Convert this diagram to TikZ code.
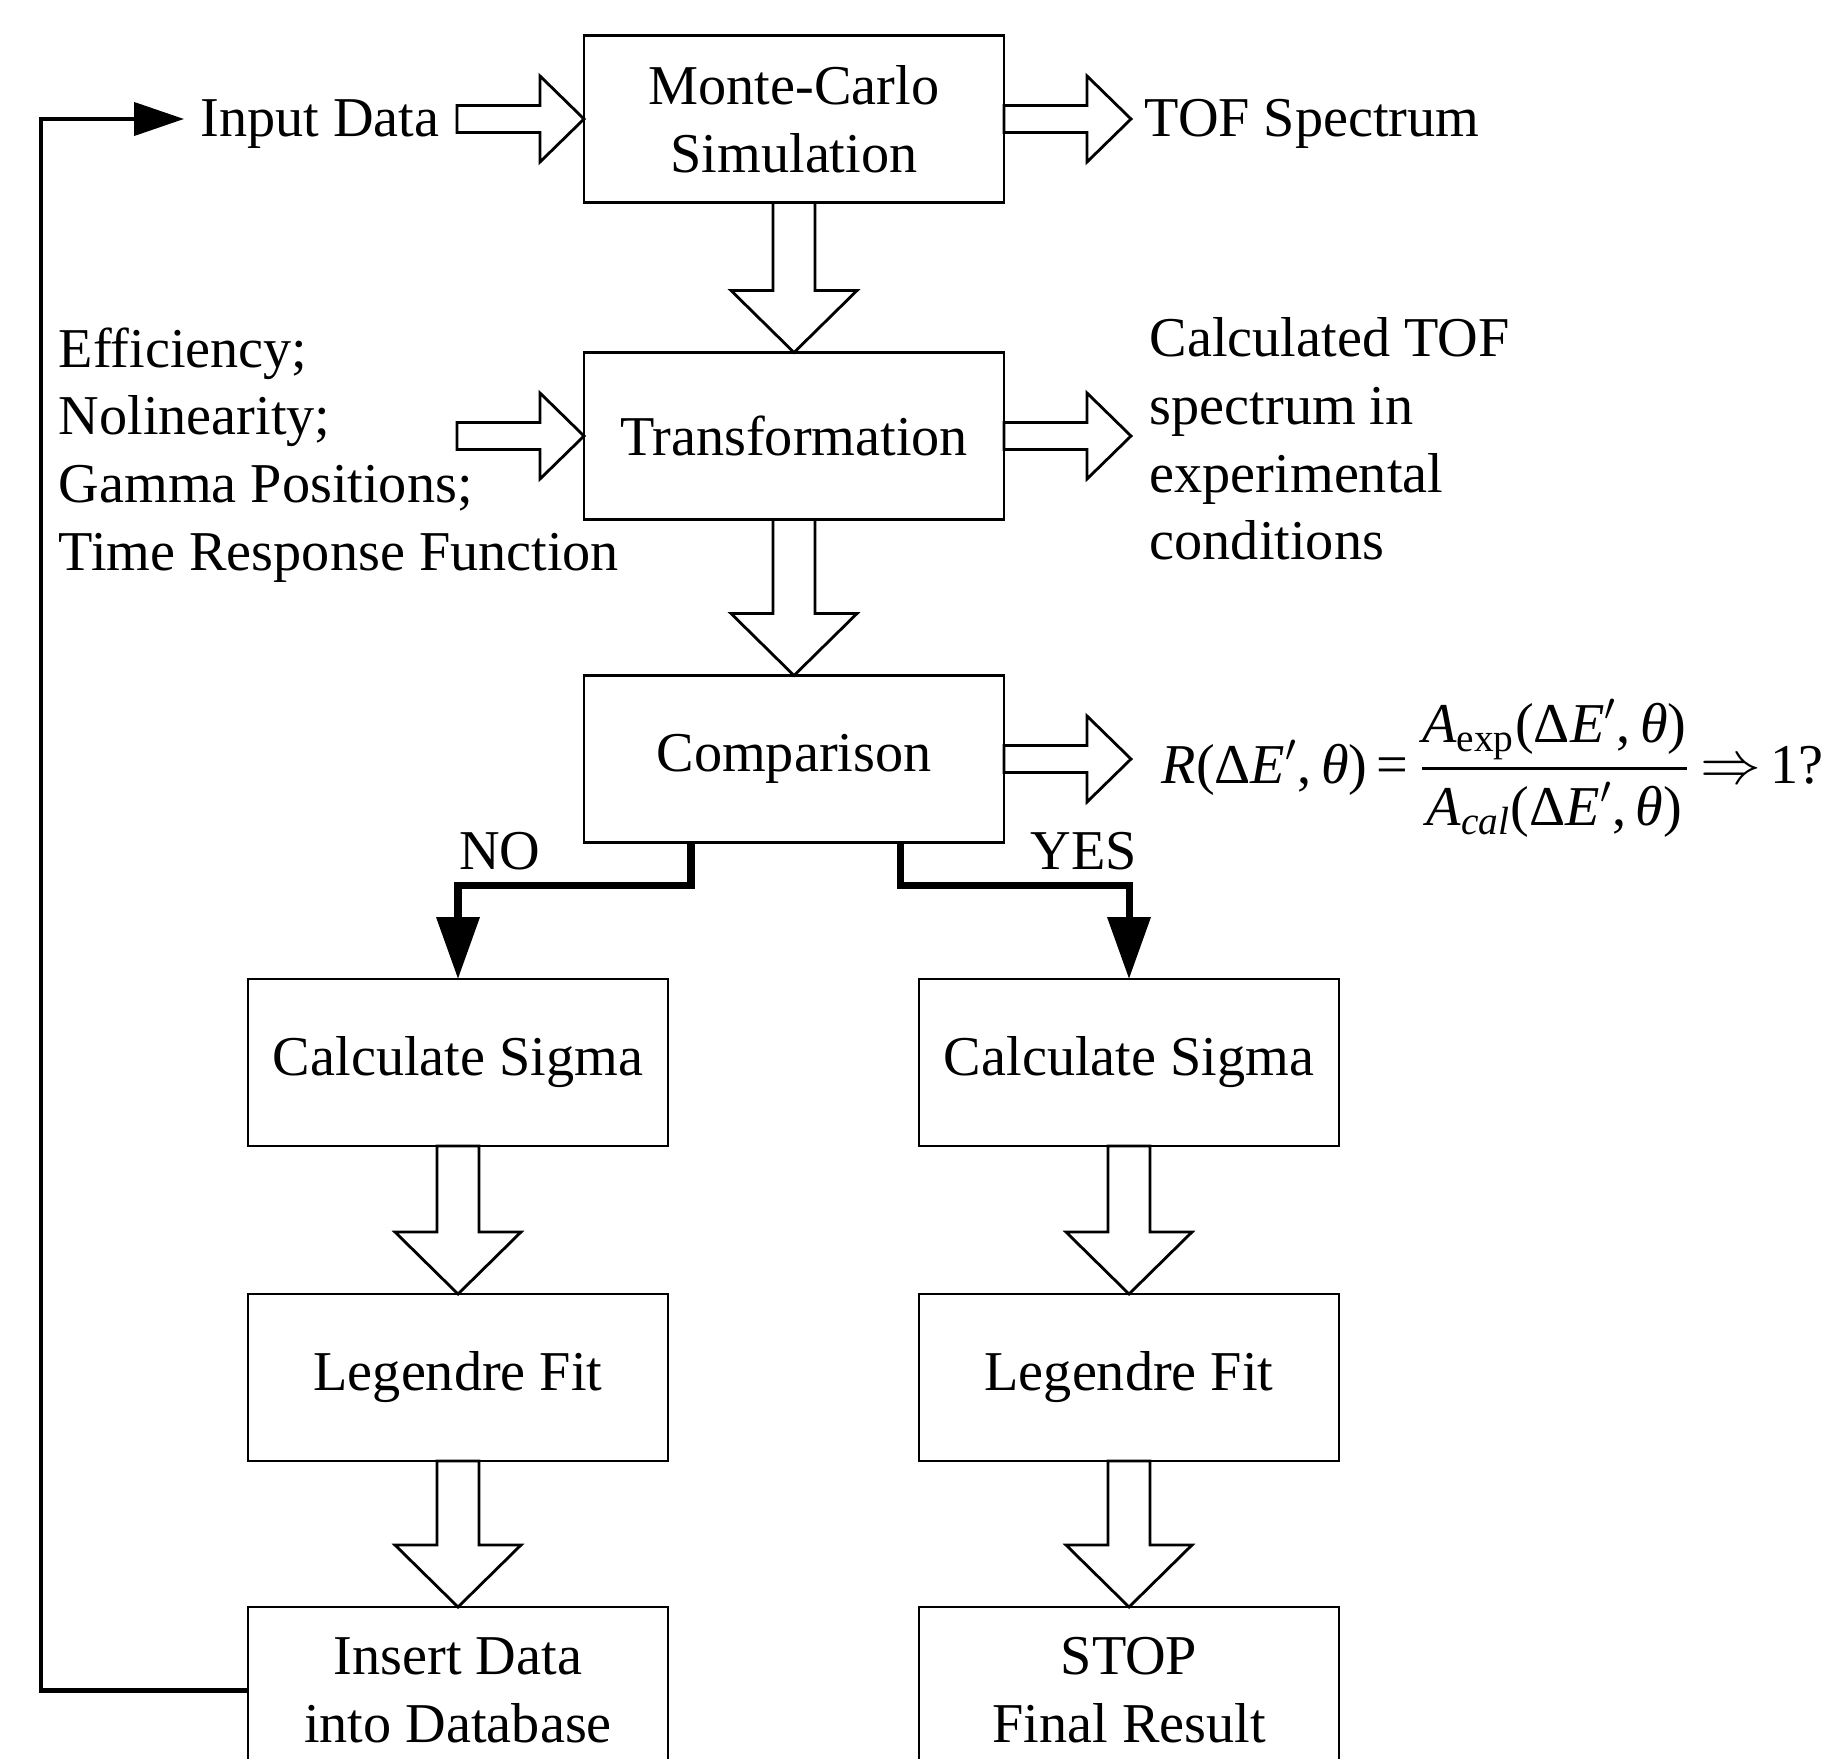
\documentclass[tikz,border=0pt]{standalone}
\usepackage{amsmath}
\usepackage{fontspec}
\setmainfont{Liberation Serif}
\usetikzlibrary{arrows.meta, positioning, calc}

% hollow block arrows, drawn as closed outlines
\newcommand{\hollowdown}[2]{%
  \draw[hollow] ($(#1.south)+(-0.21,0)$) -- ($(#2.north)+(-0.21,0.62)$) -- ($(#2.north)+(-0.63,0.62)$)
    -- (#2.north) -- ($(#2.north)+(0.63,0.62)$) -- ($(#2.north)+(0.21,0.62)$) -- ($(#1.south)+(0.21,0)$) -- cycle;}
\newcommand{\hollowright}[2]{%
  \draw[hollow] ($(#1)+(0,0.135)$) -- ($(#2)+(-0.44,0.135)$) -- ($(#2)+(-0.44,0.43)$)
    -- (#2) -- ($(#2)+(-0.44,-0.43)$) -- ($(#2)+(-0.44,-0.135)$) -- ($(#1)+(0,-0.135)$) -- cycle;}
\newcommand{\dEth}{Δ\textit{E}$'$,\,\textit{θ}}

\begin{document}
\begin{tikzpicture}[
    node distance=1.5cm,
    every node/.style={font=\fontsize{16pt}{19.3pt}\selectfont},
    box/.style={rectangle, draw, line width=0.8pt, minimum width=4.2cm, minimum height=1.67cm, inner sep=0pt, outer sep=0pt, align=center, fill=white},
    hollow/.style={draw, line width=0.8pt, fill=white, line join=miter},
    flow/.style={-{Triangle[length=0.62cm, width=0.42cm]}, line width=2pt},
    loopline/.style={-{Triangle[length=0.5cm, width=0.33cm]}, line width=1.2pt},
    txt/.style={inner sep=0pt, align=left}
]
\clip (0,0) rectangle (18.34,-17.58);

% Main chain
\node[box] (mc) at (7.94,-1.19) {Monte-Carlo\\Simulation};
\node[box, below=1.5cm of mc] (tr) {Transformation};
\node[box, below=1.56cm of tr] (cmp) {Comparison};

% NO branch
\node[box] (csno) at (4.58,-10.625) {Calculate Sigma};
\node[box, below=1.48cm of csno] (lfno) {Legendre Fit};
\node[box, below=1.46cm of lfno] (insert) {Insert Data\\into Database};

% YES branch
\node[box, right=2.51cm of csno] (csyes) {Calculate Sigma};
\node[box, right=2.51cm of lfno] (lfyes) {Legendre Fit};
\node[box, right=2.51cm of insert] (stop) {STOP\\Final Result};

% Side texts
\node[txt, anchor=east] (input) at (4.40,-1.24) {Input Data};
\node[txt, anchor=west] (tof) at (11.44,-1.24) {TOF Spectrum};
\node[txt, anchor=west] (params) at (0.58,-4.55) {Efficiency;\\Nolinearity;\\Gamma Positions;\\Time Response Function};
\node[txt, anchor=west] (calc) at (11.49,-4.39) {Calculated TOF\\spectrum in\\experimental\\conditions};
\node[txt, anchor=west] (ratio) at (11.61,-7.68)
  {\textit{R}(\dEth)\,=\,$\dfrac{\text{\textit{A}}_{\text{exp}}\text{(\dEth)}}{\text{\textit{A}}_{\text{\itshape cal}}\text{(\dEth)}}$\,$\Rightarrow$\,1?};
\node[txt] (no) at (5.00,-8.51) {NO};
\node[txt] (yes) at (10.84,-8.51) {YES};

% Arrow end points
\coordinate (inA) at ($(mc.west)+(-1.27,0)$);
\coordinate (tofA) at ($(mc.east)+(1.27,0)$);
\coordinate (paramA) at ($(tr.west)+(-1.27,0)$);
\coordinate (calcA) at ($(tr.east)+(1.27,0)$);
\coordinate (ratioA) at ($(cmp.east)+(1.27,0)$);
\coordinate (inL) at (1.84,-1.19);

% Horizontal block arrows
\hollowright{inA}{mc.west}
\hollowright{mc.east}{tofA}
\hollowright{paramA}{tr.west}
\hollowright{tr.east}{calcA}
\hollowright{cmp.east}{ratioA}

% Vertical block arrows
\hollowdown{mc}{tr}
\hollowdown{tr}{cmp}
\hollowdown{csno}{lfno}
\hollowdown{lfno}{insert}
\hollowdown{csyes}{lfyes}
\hollowdown{lfyes}{stop}

% Decision branches
\draw[flow] ([xshift=-1.03cm]cmp.south) -- ++(0,-0.43) -| (csno.north);
\draw[flow] ([xshift=1.06cm]cmp.south) -- ++(0,-0.43) -| (csyes.north);

% Feedback loop
\draw[loopline] (insert.west) -- ++(-2.07,0) |- (inL);

\end{tikzpicture}
\end{document}
